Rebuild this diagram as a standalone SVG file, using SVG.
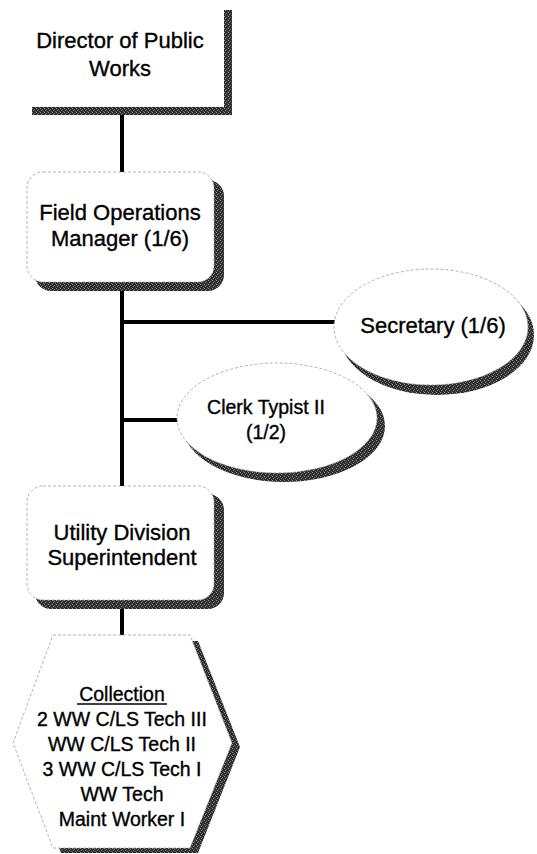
<svg xmlns="http://www.w3.org/2000/svg" width="537" height="854" viewBox="0 0 537 854">
  <defs>
    <!-- grainy halftone fill used for the drop shadows -->
    <pattern id="grain" width="4" height="4" patternUnits="userSpaceOnUse">
      <rect width="4" height="4" fill="#2a2a2a"/>
      <rect x="0" y="0" width="1" height="1" fill="#9a9a9a"/>
      <rect x="2" y="1" width="1" height="1" fill="#777"/>
      <rect x="1" y="2" width="1" height="1" fill="#8a8a8a"/>
      <rect x="3" y="3" width="1" height="1" fill="#666"/>
    </pattern>
  </defs>
  <style>
    .lbl { font-family: "Liberation Sans", Arial, sans-serif; font-size: 22px; fill: #000; stroke: #000; stroke-width: 0.35; text-anchor: middle; }
    .md { font-size: 19.5px; }
    .sm { font-size: 19.5px; }
    .shadow { fill: url(#grain); }
    .face { fill: #fff; stroke: #a0a0a0; stroke-width: 0.8; stroke-dasharray: 3 2; }
    .wire { stroke: #000; stroke-width: 4; fill: none; }
  </style>
  <rect width="537" height="854" fill="#fff"/>

  <!-- connectors -->
  <g id="connectors">
    <line class="wire" x1="122" y1="112" x2="122" y2="174"/>
    <line class="wire" x1="122" y1="282" x2="122" y2="488"/>
    <line class="wire" x1="120" y1="322" x2="336" y2="322"/>
    <line class="wire" x1="120" y1="420" x2="178" y2="420"/>
    <line class="wire" x1="122" y1="605" x2="122" y2="637"/>
  </g>

  <!-- Director: borderless box with drop shadow -->
  <g id="director">
    <rect class="shadow" x="224" y="10" width="8" height="105"/>
    <rect class="shadow" x="32" y="107" width="200" height="8"/>
    <text class="lbl" x="120" y="48">Director of Public</text>
    <text class="lbl" x="120" y="76">Works</text>
  </g>

  <g id="field-ops">
    <rect class="shadow" x="35" y="180" width="189" height="111" rx="16"/>
    <rect class="face" x="27" y="172" width="187" height="110" rx="16"/>
    <text class="lbl" x="120" y="220">Field Operations</text>
    <text class="lbl" x="120" y="246">Manager (1/6)</text>
  </g>

  <g id="secretary">
    <ellipse class="shadow" cx="437" cy="335" rx="97" ry="60"/>
    <ellipse class="face" cx="431" cy="327" rx="97" ry="58"/>
    <text class="lbl" x="433" y="333">Secretary (1/6)</text>
  </g>

  <g id="clerk">
    <ellipse class="shadow" cx="284" cy="426" rx="101" ry="56"/>
    <ellipse class="face" cx="277" cy="418" rx="100" ry="55"/>
    <text class="lbl md" x="266" y="414">Clerk Typist II</text>
    <text class="lbl md" x="266" y="439">(1/2)</text>
  </g>

  <g id="utility">
    <rect class="shadow" x="35" y="494" width="189" height="115" rx="16"/>
    <rect class="face" x="27" y="486" width="187" height="114" rx="16"/>
    <text class="lbl" x="122" y="540">Utility Division</text>
    <text class="lbl" x="122" y="565">Superintendent</text>
  </g>

  <g id="collection">
    <polygon class="shadow" points="61,641 198,641 240,747 198,853 61,853 21,747"/>
    <polygon class="face" points="53,635 190,635 232,743 190,848 53,848 13,743"/>
    <text class="lbl sm" x="122" y="701">Collection</text>
    <line x1="77" y1="704" x2="167" y2="704" stroke="#000" stroke-width="1.3"/>
    <text class="lbl sm" x="122" y="726">2 WW C/LS Tech III</text>
    <text class="lbl sm" x="122" y="751">WW C/LS Tech II</text>
    <text class="lbl sm" x="122" y="776">3 WW C/LS Tech I</text>
    <text class="lbl sm" x="122" y="801">WW Tech</text>
    <text class="lbl sm" x="122" y="826">Maint Worker I</text>
  </g>
</svg>
